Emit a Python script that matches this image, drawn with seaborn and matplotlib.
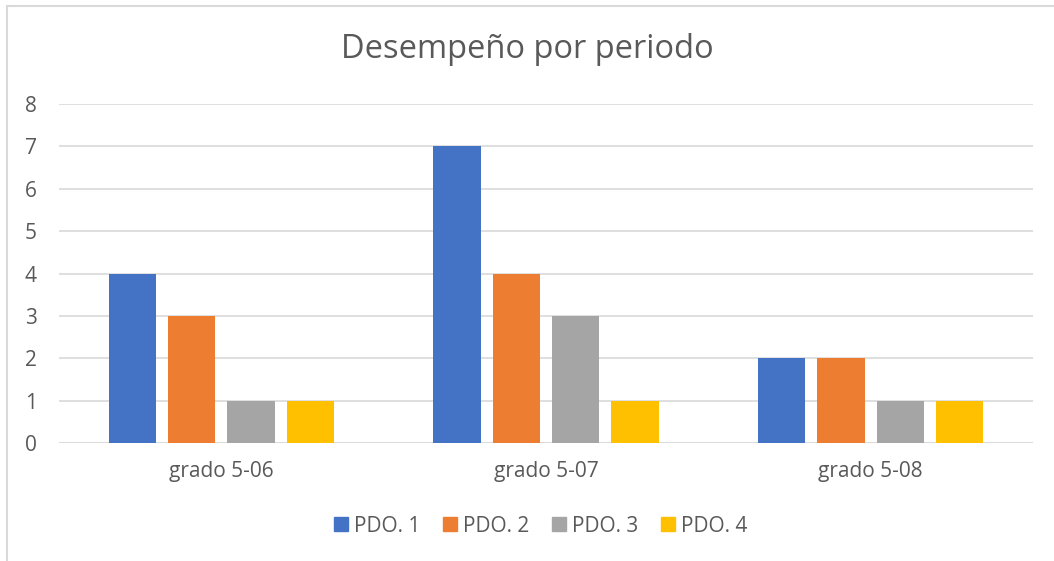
import pandas as pd
import seaborn as sns
import matplotlib.pyplot as plt
from matplotlib.patches import Rectangle
from matplotlib.lines import Line2D

# Data
grados = ['grado 5-06', 'grado 5-07', 'grado 5-08']
periodos = ['PDO. 1', 'PDO. 2', 'PDO. 3', 'PDO. 4']
pdo1 = [4, 7, 2]
pdo2 = [3, 4, 2]
pdo3 = [1, 3, 1]
pdo4 = [1, 1, 1]
colores = ['#4472C4', '#ED7D31', '#A5A5A5', '#FFC000']

rows = []
for p, vals in zip(periodos, [pdo1, pdo2, pdo3, pdo4]):
    for g, v in zip(grados, vals):
        rows.append({'grado': g, 'periodo': p, 'valor': v})
df = pd.DataFrame(rows)

sns.set_style('white')
plt.rcParams['font.family'] = ['Open Sans', 'DejaVu Sans']
txt = '#595959'

fig = plt.figure(figsize=(10.54, 5.61), dpi=100)
ax = fig.add_axes([59/1054, 1 - 443/561, (1033-59)/1054, (443-104)/561])

sns.barplot(data=df, x='grado', y='valor', hue='periodo', palette=colores,
            width=0.73, gap=0.2, ax=ax, legend=False, saturation=1, linewidth=0)

ax.set_ylim(0, 8)
ax.set_yticks(range(0, 9))
ax.yaxis.grid(True, color='#d9d9d9', linewidth=1.2)
ax.set_axisbelow(True)
for s in ax.spines.values():
    s.set_visible(False)
ax.axhline(0, color='#d9d9d9', linewidth=1.2, zorder=0)
ax.set_xlabel('')
ax.set_ylabel('')
ax.tick_params(axis='both', length=0, labelsize=15, labelcolor=txt)
ax.tick_params(axis='y', pad=16)
ax.tick_params(axis='x', pad=13)

fig.text(0.5, 1 - 50/561, 'Desempeño por periodo', ha='center', va='center',
         fontsize=23.5, color=txt)

handles = [Line2D([], [], marker='s', linestyle='', markersize=10,
                  markerfacecolor=c, markeredgecolor=c) for c in colores]
fig.legend(handles, periodos, loc='center', bbox_to_anchor=(540/1054, 1 - 526/561),
           ncol=4, frameon=False, fontsize=15, labelcolor=txt,
           handlelength=0.8, handletextpad=0.2, columnspacing=1.05)

# outer chart frame
fig.patches.append(Rectangle((7/1054, -0.05), 1.1, 1 - 6/561 + 0.05,
                             transform=fig.transFigure, fill=False,
                             edgecolor='#d9d9d9', linewidth=1.5))

fig.savefig('out.png', dpi=100)
